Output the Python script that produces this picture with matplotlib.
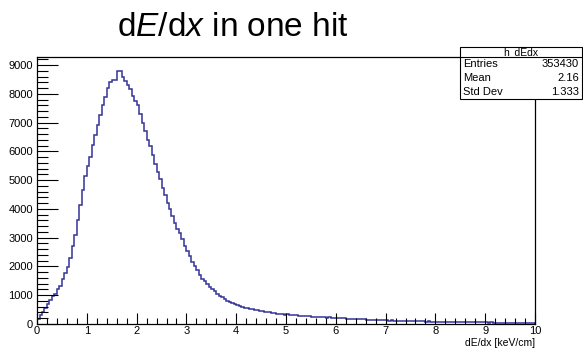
import matplotlib
matplotlib.use('Agg')
import matplotlib.pyplot as plt
import numpy as np
from matplotlib.ticker import MultipleLocator

plt.rcParams['font.family'] = ['Liberation Sans', 'DejaVu Sans']
plt.rcParams['mathtext.fontset'] = 'custom'
plt.rcParams['mathtext.rm'] = 'Liberation Sans'
plt.rcParams['mathtext.it'] = 'Liberation Sans:italic'

# h_dEdx: 200 bins of 0.05 keV/cm from 0 to 10
x_min, x_max, n_bins = 0.0, 10.0, 200
counts = [
    170, 330, 420, 560, 690, 820, 960, 1060, 1210, 1330,
    1580, 1780, 1980, 2300, 2700, 3080, 3600, 4150, 4650, 5150,
    5480, 5800, 6220, 6560, 6920, 7250, 7620, 7880, 8200, 8400,
    8480, 8470, 8780, 8800, 8590, 8430, 8300, 8180, 7920, 7740,
    7600, 7280, 6980, 6700, 6400, 6180, 5880, 5560, 5270, 5050,
    4740, 4480, 4220, 3990, 3760, 3510, 3300, 3150, 2950, 2700,
    2540, 2360, 2170, 2010, 1860, 1720, 1580, 1480, 1400, 1300,
    1220, 1130, 1060, 990, 930, 870, 810, 780, 720, 690,
    660, 620, 600, 570, 560, 530, 510, 500, 480, 460,
    440, 430, 410, 400, 390, 370, 360, 350, 340, 330,
    350, 320, 330, 300, 310, 290, 295, 280, 275, 270,
    255, 260, 245, 250, 235, 240, 225, 230, 215, 220,
    205, 210, 195, 200, 190, 185, 180, 175, 170, 175,
    160, 165, 155, 150, 155, 140, 145, 135, 140, 130,
    135, 120, 125, 115, 120, 110, 115, 105, 110, 100,
    105, 98, 95, 100, 90, 94, 86, 90, 82, 85,
    80, 78, 82, 74, 76, 70, 74, 68, 70, 65,
    68, 62, 66, 60, 63, 58, 60, 56, 58, 54,
    56, 52, 55, 50, 52, 48, 50, 46, 49, 45,
    47, 43, 45, 42, 44, 40, 42, 39, 41, 38,
]
stats_name = 'h_dEdx'
stats_rows = [('Entries', '353430'), ('Mean', '2.16'), ('Std Dev', '1.333')]

edges = np.linspace(x_min, x_max, n_bins + 1)

fig = plt.figure(figsize=(5.83, 3.49), dpi=100)
ax = fig.add_axes([0.0635, 0.0716, 0.8542, 0.7651])

ax.stairs(counts, edges, baseline=0, color='#333399', lw=1.1)

ax.set_xlim(x_min, x_max)
ax.set_ylim(0, 9278)

ax.xaxis.set_major_locator(MultipleLocator(1))
ax.xaxis.set_minor_locator(MultipleLocator(0.2))
ax.yaxis.set_major_locator(MultipleLocator(1000))
ax.yaxis.set_minor_locator(MultipleLocator(200))
ax.tick_params(axis='both', which='both', direction='in', top=False, right=False,
               labelsize=8, width=0.8)
ax.tick_params(axis='x', which='major', length=8, pad=1.5)
ax.tick_params(axis='x', which='minor', length=4)
ax.tick_params(axis='y', which='major', length=15, pad=3)
ax.tick_params(axis='y', which='minor', length=8)
for side in ax.spines.values():
    side.set_linewidth(0.9)

ax.text(1.0, -0.072, 'dE/dx [keV/cm]', transform=ax.transAxes, ha='right', va='center',
        fontsize=7.5)

fig.text(0.40, 0.92, r'd$\mathit{E}$/d$\mathit{x}$ in one hit', ha='center', va='center',
         fontsize=24)

# stats box in the top right corner
bx0, bx1 = 460 / 583, 582 / 583
by_top, by_head, by_bot = 1 - 47 / 349, 1 - 57 / 349, 1 - 99 / 349
box = plt.Rectangle((bx0, by_bot), bx1 - bx0, by_top - by_bot, transform=fig.transFigure,
                    facecolor='white', edgecolor='black', lw=0.8, zorder=5)
fig.add_artist(box)
fig.add_artist(plt.Line2D([bx0, bx1], [by_head, by_head], transform=fig.transFigure,
                          color='black', lw=0.8, zorder=6))
fig.text((bx0 + bx1) / 2, (by_top + by_head) / 2, stats_name, ha='center', va='center',
         fontsize=7.5, zorder=7)
row_h = (by_head - by_bot) / len(stats_rows)
for i, (label, value) in enumerate(stats_rows):
    yy = by_head - row_h * (i + 0.5)
    fig.text(463 / 583, yy, label, ha='left', va='center', fontsize=8, zorder=7)
    fig.text(579 / 583, yy, value, ha='right', va='center', fontsize=8, zorder=7)

fig.savefig('out.png', dpi=100)
